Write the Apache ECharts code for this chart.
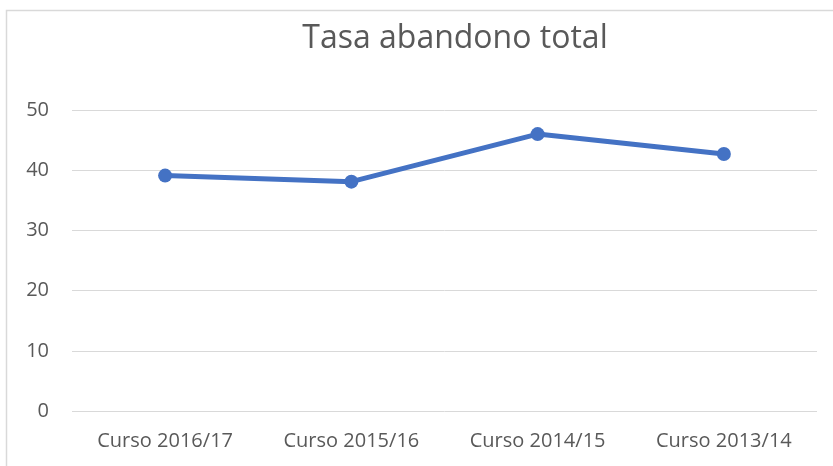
<!DOCTYPE html>
<html>
<head>
<meta charset="utf-8">
<script src="https://cdn.jsdelivr.net/npm/echarts@6/dist/echarts.min.js"></script>
<style>
  html, body { margin: 0; padding: 0; background: #fff; }
  #chart { width: 833px; height: 466px; }
</style>
</head>
<body>
<div id="chart"></div>
<script>
  const categories = ['Curso 2016/17', 'Curso 2015/16', 'Curso 2014/15', 'Curso 2013/14'];
  const values = [39.1, 38.1, 46.0, 42.7];
  const yTicks = [0, 10, 20, 30, 40, 50];

  const chart = echarts.init(document.getElementById('chart'));
  const font = '"Open Sans", sans-serif';

  chart.setOption({
    animation: false,
    graphic: [{
      type: 'rect',
      shape: { x: 6.5, y: 10.5, width: 900, height: 500 },
      style: { fill: 'none', stroke: '#d9d9d9', lineWidth: 1.5 },
      silent: true
    }],
    title: {
      text: 'Tasa abandono total',
      left: 450,
      textAlign: 'center',
      top: 18,
      textStyle: { fontFamily: font, fontSize: 32, fontWeight: 'normal', color: '#595959' }
    },
    grid: { left: 72, right: 16, top: 110, bottom: 55 },
    xAxis: {
      type: 'category',
      data: categories,
      axisLine: { show: false },
      axisTick: { show: false },
      axisLabel: { fontFamily: font, fontSize: 20, color: '#595959', margin: 20 }
    },
    yAxis: {
      type: 'value',
      min: yTicks[0],
      max: yTicks[yTicks.length - 1],
      interval: 10,
      axisLine: { show: false },
      axisTick: { show: false },
      splitLine: { lineStyle: { color: '#d9d9d9', width: 1 } },
      axisLabel: { fontFamily: font, fontSize: 20, color: '#595959', margin: 23 }
    },
    series: [{
      type: 'line',
      data: values,
      symbol: 'circle',
      symbolSize: 14,
      itemStyle: { color: '#4472C4' },
      lineStyle: { color: '#4472C4', width: 5 }
    }]
  });
</script>
</body>
</html>
